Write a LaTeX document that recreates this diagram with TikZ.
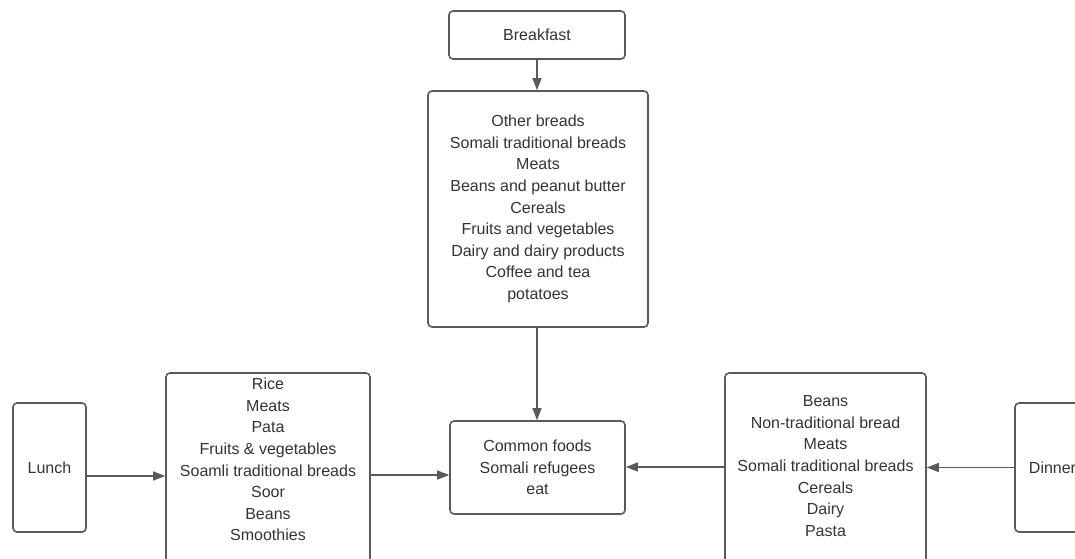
\documentclass[tikz,border=0pt]{standalone}
\usepackage{fontspec}
\setmainfont{Liberation Sans}
\usepackage{tikz}
\usetikzlibrary{arrows.meta}
\usetikzlibrary{shapes.geometric, positioning, calc}

\definecolor{boxgray}{HTML}{5A5A5A}
\definecolor{textgray}{HTML}{333333}

\tikzset{
  mealbox/.style={draw=boxgray, line width=1.6pt, rounded corners=4pt, text=textgray,
    align=center, inner sep=0pt, font=\fontsize{16}{21.6}\selectfont},
  flow/.style={draw=boxgray, line width=1.3pt, -{Triangle[length=12pt,width=9pt]}}
}

\begin{document}
\begin{tikzpicture}[x=1pt,y=-1pt]
	\clip (0,0) rectangle (1075,558);
	\node[mealbox, minimum width=176pt, minimum height=48pt] (breakfast) at (537,35) {Breakfast};
	\node[mealbox, minimum width=220pt, minimum height=236pt] (breakfastlist) at (538,209)
		{Other breads\\Somali traditional breads\\Meats\\Beans and peanut butter\\Cereals\\
		 Fruits and vegetables\\Dairy and dairy products\\Coffee and tea\\potatoes};
	\node[mealbox, minimum width=175pt, minimum height=93pt] (common) at (537.5,467.5)
		{Common foods\\Somali refugees\\eat};
	\node[mealbox, minimum width=73pt, minimum height=129pt] (lunch) at (49.5,467.5) {Lunch};
	\node[mealbox, minimum width=204pt, minimum height=196pt] (lunchlist) at (268,471)
		{Rice\\Meats\\Pata\\Fruits \& vegetables\\Soamli traditional breads\\Soor\\Beans\\Smoothies\\[1.3pt]\mbox{}};
	\node[mealbox, minimum width=201pt, minimum height=196pt] (dinnerlist) at (825.5,471)
		{Beans\\Non-traditional bread\\Meats\\Somali traditional breads\\Cereals\\Dairy\\Pasta\\[-11.7pt]\mbox{}};
	\node[mealbox, minimum width=75pt, minimum height=129pt] (dinner) at (1052.5,467.5) {Dinner};
	% arrows
	\draw[flow] (breakfast.south) -- (breakfast.south |- breakfastlist.north);
	\draw[flow] (breakfast.south |- breakfastlist.south) -- (breakfast.south |- common.north);
	\draw[flow] ([yshift=-8.5pt]lunch.east) -- ([yshift=-8.5pt]lunch.east -| lunchlist.west);
	\draw[flow] ([yshift=-7.5pt]lunch.east -| lunchlist.east) -- ([yshift=-7.5pt]lunch.east -| common.west);
	\draw[flow] (dinner.west) -- (dinner.west -| dinnerlist.east);
	\draw[flow] ([yshift=0.5pt]dinner.west -| dinnerlist.west) -- ([yshift=0.5pt]dinner.west -| common.east);
\end{tikzpicture}
\end{document}
